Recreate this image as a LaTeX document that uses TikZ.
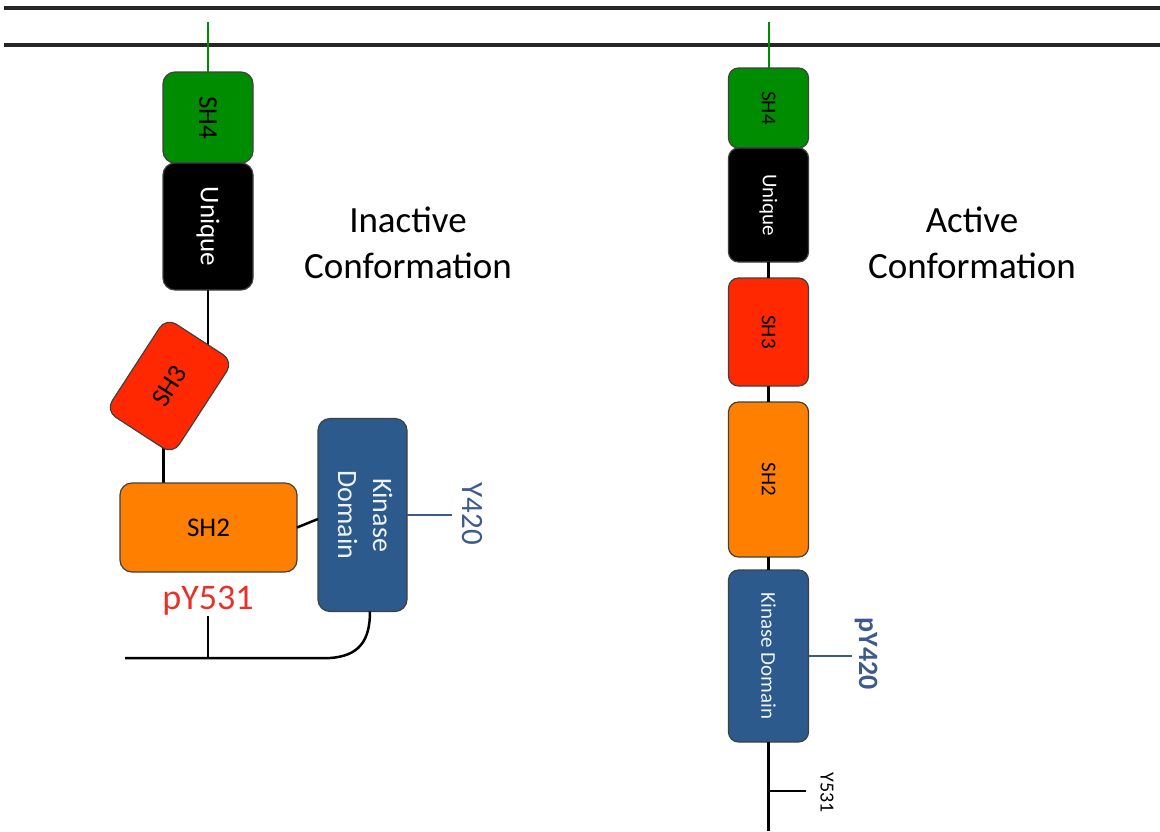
\documentclass[tikz,border=0pt]{standalone}
\usepackage{fontspec}
\setmainfont{Carlito}
\usepackage{graphicx}
\usetikzlibrary{positioning, backgrounds}
\definecolor{sh4col}{RGB}{0,140,0}
\definecolor{sh3col}{RGB}{255,40,0}
\definecolor{sh2col}{RGB}{255,128,0}
\definecolor{kincol}{RGB}{44,90,140}
\definecolor{tyrblue}{RGB}{60,90,140}
\definecolor{pred}{RGB}{230,50,40}
\tikzset{
  dom/.style={
    draw=black!75, line width=1.2pt, rounded corners=12pt,
    inner sep=0pt, outer sep=0pt, align=center,
    font=\fontsize{27}{33}\selectfont
  },
  domr/.style={dom, rounded corners=10pt, minimum width=80pt,
    font=\fontsize{21}{25}\selectfont},
  membr/.style={line width=3.2pt, black!85},
  tether/.style={line width=2.5pt},
  anchorline/.style={line width=2pt, sh4col},
  bluetick/.style={line width=2.2pt, tyrblue},
  title/.style={font=\fontsize{37}{46}\selectfont, align=center},
  tyr/.style={inner sep=0pt}
}
\newcommand{\vtxt}[1]{\rotatebox{-90}{#1}}

\begin{document}
\begin{tikzpicture}[x=1pt, y=-1pt]
  \useasboundingbox (0,0) rectangle (1160,831);

  % membrane
  \draw[membr] (4,8)  -- (1160,8);
  \draw[membr] (4,45) -- (1160,45);

  % inactive form
  \node[dom, fill=sh4col, minimum width=90pt, minimum height=91pt] (lsh4) at (208,117.5) {\vtxt{SH4}};
  \node[dom, fill=black, text=white, minimum width=90pt, minimum height=127pt,
        below=0pt of lsh4] (luniq) {\vtxt{Unique}};
  \node[dom, fill=sh3col, minimum width=111pt, minimum height=80pt, rotate=57] (lsh3) at (169.5,386) {SH3};
  \node[dom, fill=sh2col, minimum width=177pt, minimum height=89pt] (lsh2) at (208.5,527.5) {SH2};
  \node[dom, fill=kincol, text=white!92!kincol, minimum width=89pt, minimum height=193pt,
        font=\fontsize{28}{35}\selectfont] (lkin) at (362.5,515)
        {\vtxt{\begin{tabular}{@{}c@{}}Kinase\\Domain\end{tabular}}};

  \coordinate (lanch) at (208,22);
  \coordinate (ljoin) at (208,658);
  \coordinate (ltail) at (125,658);

  \begin{scope}[on background layer]
    \draw[tether] (luniq.south) -- (luniq.south |- lsh3.center);
    \draw[tether] ([xshift=-45pt]lsh2.north) -- ([xshift=-45pt]lsh2.north |- lsh3.center);
  \end{scope}
  \draw[anchorline] (lanch) -- (lsh4);
  \draw[tether] (lsh2.east) -- ([yshift=-4pt]lkin.west);

  \draw[bluetick] (lkin.east) -- ++(45,0) coordinate (ly420);
  \node[tyr, text=tyrblue, font=\fontsize{31}{35}\selectfont] (y420) at (472,514) {\vtxt{Y420}};

  \node[tyr, text=pred, font=\fontsize{36}{40}\selectfont] (py531) at (208,601) {pY531};
  \draw[tether] (py531.south) -- (ljoin);
  \draw[tether] (ltail) -- (330,658) .. controls (358,656) and (370,642) .. ([xshift=7.5pt]lkin.south);

  \node[title] (inact) at (408,243) {Inactive\\Conformation};

  % active form
  \node[domr, fill=sh4col, minimum height=80pt] (rsh4) at (768.5,108) {\vtxt{SH4}};
  \node[domr, fill=black, text=white, minimum height=114pt, below=0pt of rsh4] (runiq) {\vtxt{Unique}};
  \node[domr, fill=sh3col, minimum height=108pt, below=16pt of runiq] (rsh3) {\vtxt{SH3}};
  \node[domr, fill=sh2col, minimum height=155pt, below=16pt of rsh3] (rsh2) {\vtxt{SH2}};
  \node[domr, fill=kincol, text=white!92!kincol, minimum height=172pt, below=13pt of rsh2] (rkin)
        {\vtxt{Kinase Domain}};

  \coordinate (ranch) at (768.5,22);
  \coordinate (rend)  at (768.5,831);
  \coordinate (ry531) at (768.5,791);

  \draw[anchorline] (ranch) -- (rsh4);
  \draw[tether] (runiq) -- (rsh3);
  \draw[tether] (rsh3) -- (rsh2);
  \draw[tether] (rsh2) -- (rkin);
  \draw[tether] (rkin) -- (rend);

  \draw[bluetick] (rkin.east) -- ++(43,0) coordinate (rp420);
  \node[tyr, text=tyrblue, font=\fontsize{28}{32}\selectfont\bfseries] (py420) at (866,654) {\vtxt{pY420}};

  \draw[tether] (ry531) -- ++(37,0) coordinate (ry531e);
  \node[tyr, font=\fontsize{20}{24}\selectfont] (y531) at (827,793) {\vtxt{Y531}};

  \node[title] (act) at (972,243) {Active\\Conformation};

\end{tikzpicture}
\end{document}
